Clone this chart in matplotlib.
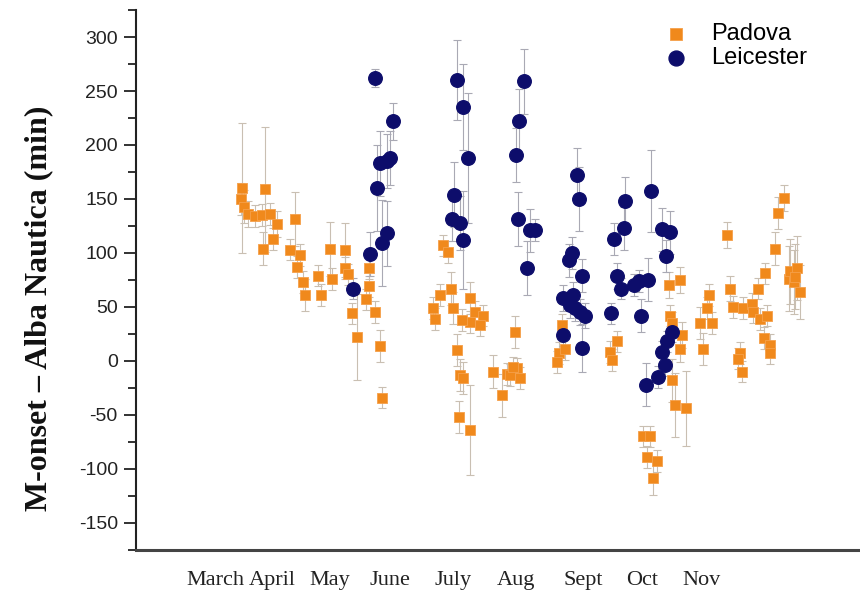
import numpy as np
import matplotlib.pyplot as plt
from matplotlib.ticker import MultipleLocator

plt.rcParams['axes.unicode_minus'] = False

# x = day of year, y = minutes, e = error
pad_x = [87.6, 86.9, 88.5, 90.5, 94.0, 97.7, 101.7, 99.4, 105.0, 103.2, 98.3,
         114.3, 112.0, 116.7, 115.5, 118.4, 119.3, 126.1, 127.6, 132.0, 139.6,
         132.8, 139.6, 140.8, 151.6, 142.9, 145.4, 154.8, 156.9, 158.2, 151.6, 150.1,
         188.8, 191.5, 192.8, 187.4, 184.0, 184.9, 194.0, 202.5, 205.0, 209.2, 202.5,
         207.6, 198.3, 195.8, 197.5, 199.1, 197.0, 202.5,
         225.0, 214.3, 221.0, 226.0, 227.7, 218.5, 222.7, 224.2,
         248.7, 247.4, 246.1, 250.4, 276.5, 273.1, 274.0,
         302.5, 308.4, 303.3, 304.1, 309.2, 308.4, 304.1, 305.8, 311.4, 289.9, 293.3,
         291.6, 296.7, 294.5,
         323.1, 321.7, 318.4, 324.2, 320.1, 331.9, 333.6, 335.2, 340.2, 344.4, 347.8,
         351.2, 345.3, 348.7, 352.1, 350.4, 353.8, 353.8, 338.6, 337.7, 339.4, 356.3,
         357.9, 360.5, 363.0, 363.8, 367.2, 365.5, 368.8, 366.4]
pad_y = [160, 150, 143, 136, 134, 135, 136, 159, 127, 113, 104,
         131, 103, 98, 87, 73, 61, 79, 61, 104, 103,
         76, 86, 80, 69, 44, 22, 45, 14, -34, 86, 57,
         107, 101, 67, 61, 49, 39, 49, 58, 45, 42, 36,
         33, 38, 10, -13, -16, -52, -64,
         27, -10, -12, -7, -16, -32, -13, -6,
         33, 7, -1, 11, 18, 8, 1,
         70, 75, 42, 35, 24, 11, -18, -41, -44, -70, -70,
         -89, -93, -109,
         61, 49, 35, 35, 11, 117, 67, 50, 49, 53, 67,
         81, 45, 39, 42, 21, 15, 7, 7, 2, -10, 104,
         137, 151, 76, 83, 86, 73, 64, 78]
pad_e = [60, 15, 15, 12, 10, 10, 10, 58, 12, 10, 15,
         25, 10, 10, 10, 10, 15, 10, 10, 25, 25,
         10, 10, 10, 10, 10, 40, 10, 15, 10, 10, 10,
         10, 10, 15, 10, 10, 10, 15, 15, 10, 10, 10,
         10, 10, 15, 15, 15, 15, 42,
         15, 15, 10, 10, 10, 20, 10, 10,
         10, 10, 10, 10, 10, 10, 10,
         12, 12, 10, 10, 12, 12, 20, 30, 35, 10, 10,
         10, 10, 15,
         10, 10, 15, 10, 15, 12, 12, 10, 10, 10, 10,
         10, 10, 10, 10, 10, 10, 10, 10, 10, 10, 15,
         15, 12, 30, 30, 30, 30, 25, 30]

lei_x = [143.7, 154.6, 163.8, 157.2, 162.2, 160.6, 155.5, 160.6, 158.0, 152.1,
         195.8, 199.1, 201.6, 194.5, 193.2, 197.5, 198.7,
         229.5, 227.3, 225.6, 226.6, 232.8, 231.1, 235.0,
         256.3, 257.6, 253.7, 252.5, 258.8, 249.5, 254.6, 252.9, 255.4, 258.0, 260.5,
         258.8, 249.5,
         273.6, 274.8, 276.5, 278.5, 280.3, 280.7, 293.6, 299.1, 303.3, 301.3, 284.9,
         287.4, 292.4, 288.6, 304.1, 301.6, 299.1, 300.8, 297.4, 291.2]
lei_y = [67, 262, 222, 183, 188, 185, 160, 118, 109, 99,
         260, 235, 188, 154, 131, 128, 112,
         259, 222, 191, 131, 121, 86, 121,
         172, 150, 100, 93, 79, 58, 61, 52, 49, 45, 42,
         12, 24,
         44, 113, 79, 67, 123, 148, 157, 122, 119, 97, 70,
         74, 75, 42, 27, 18, 8, -4, -15, -22]
lei_e = [10, 8, 17, 30, 25, 25, 40, 30, 40, 20,
         37, 40, 60, 30, 20, 25, 45,
         30, 30, 25, 25, 20, 25, 10,
         25, 30, 15, 15, 15, 12, 12, 12, 12, 12, 12,
         22, 10,
         10, 15, 12, 10, 20, 22, 38, 20, 20, 15, 10,
         10, 20, 15, 10, 10, 10, 10, 10, 20]

months = ['March', 'April', 'May', 'June', 'July', 'Aug', 'Sept', 'Oct', 'Nov']
month_pos = [74, 102.7, 132, 162.2, 194, 225.8, 259.6, 289.4, 319]

fig = plt.figure(figsize=(8.6, 5.93), dpi=100)
ax = fig.add_axes([0.158, 0.073, 0.842, 0.91])

ax.errorbar(pad_x, pad_y, yerr=pad_e, fmt='none', ecolor='#c9bfb2',
            elinewidth=0.8, capsize=3, capthick=0.8, zorder=1)
ax.errorbar(lei_x, lei_y, yerr=lei_e, fmt='none', ecolor='#a9a9b4',
            elinewidth=0.8, capsize=3, capthick=0.8, zorder=1)
ax.scatter(pad_x, pad_y, marker='s', s=62, color='#f0891c', edgecolors='#f5a04a',
           linewidths=0.6, zorder=2, label='Padova')
ax.scatter(lei_x, lei_y, marker='o', s=95, color='#0d0d6b', edgecolors='#0d0d6b',
           zorder=3, label='Leicester')

ax.set_xlim(34.1, 399)
ax.set_ylim(-175, 325)
ax.yaxis.set_major_locator(MultipleLocator(50))
ax.yaxis.set_minor_locator(MultipleLocator(25))
ax.set_xticks(month_pos)
ax.set_xticklabels(months, family='Liberation Serif', fontsize=16, color='#222222')
ax.tick_params(axis='x', length=0, pad=15)
ax.tick_params(axis='y', which='major', length=9, width=1.3, labelsize=14, pad=4,
               labelcolor='#222222', color='#222222')
ax.tick_params(axis='y', which='minor', length=6, width=1.3, color='#222222')
for lab in ax.get_yticklabels():
    lab.set_family('Liberation Sans')

ax.spines['top'].set_visible(False)
ax.spines['right'].set_visible(False)
ax.spines['left'].set_linewidth(1.5)
ax.spines['left'].set_color('#222222')
ax.spines['bottom'].set_linewidth(2.2)
ax.spines['bottom'].set_color('#444444')

fig.text(0.045, 1 - 308 / 593, 'M-onset \u2013 Alba Nautica (min)', rotation=90,
         family='Liberation Serif', fontsize=23, fontweight='bold',
         ha='center', va='center', color='#111111')

leg = ax.legend(loc='upper left', bbox_to_anchor=(664 / 860, 1 - 23 / 593),
                bbox_transform=fig.transFigure, frameon=False,
                prop={'family': 'Liberation Sans', 'size': 17}, handlelength=1.0,
                handletextpad=1.0, labelspacing=0.1, markerscale=1.1,
                borderpad=0, borderaxespad=0)

fig.savefig('out.png', dpi=100)
